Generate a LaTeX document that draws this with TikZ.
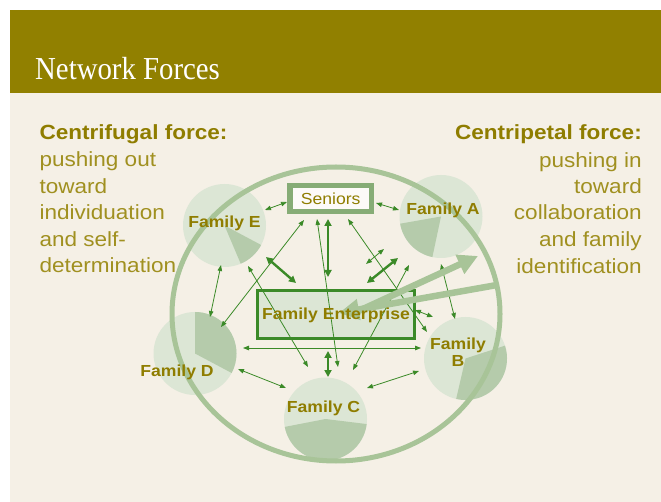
\documentclass[tikz,border=0pt]{standalone}
\usepackage{fontspec}
\setmainfont{Liberation Sans}[FakeStretch=1.1]
\newfontfamily\titlefont{Liberation Serif}[FakeStretch=0.9]
\usetikzlibrary{arrows.meta}

\definecolor{olivebar}{HTML}{918000}
\definecolor{cream}{HTML}{F5F0E6}
\definecolor{famfill}{HTML}{DCE6D5}
\definecolor{famslice}{HTML}{B5CBAB}
\definecolor{ringgreen}{HTML}{A8C498}
\definecolor{linkgreen}{HTML}{3B8A28}
\definecolor{seniorframe}{HTML}{86AC76}
\definecolor{labelolive}{HTML}{8F7D00}
\definecolor{bodyolive}{HTML}{A09020}

\begin{document}
\begin{tikzpicture}[x=1pt,y=-1pt,
  famcircle/.style={circle,fill=famfill,minimum size=83pt,inner sep=0pt},
  famlabel/.style={text=labelolive,font=\fontsize{16}{17.7}\selectfont\bfseries,inner sep=0pt,align=center},
  link/.style={draw=linkgreen,line width=0.8pt,{Triangle[length=6pt,width=4.5pt]}-{Triangle[length=6pt,width=4.5pt]}},
  boldlink/.style={draw=linkgreen,line width=2.4pt,{Triangle[length=7pt,width=7pt]}-{Triangle[length=7pt,width=7pt]}},
  force/.style={draw=ringgreen,line width=6.5pt,-{Triangle[length=20pt,width=20pt]}},
  heading/.style={text=labelolive,font=\fontsize{20.5}{24}\selectfont\bfseries,inner sep=0pt},
  body/.style={text=bodyolive,font=\fontsize{20.5}{24}\selectfont,inner sep=0pt},
  slice/.style={fill=famslice}
]
\useasboundingbox (0,0) rectangle (661,502);

% page panels
\fill[white] (0,0) rectangle (661,502);
\fill[olivebar] (9.5,10) rectangle (661,92.7);
\fill[cream] (9.5,92.7) rectangle (661,502);
\node[anchor=base west,inner sep=0pt,text=white,font=\titlefont\fontsize{32}{36}\selectfont] (title) at (35,80) {Network Forces};

% family circles with their shares
\node[famcircle] (E) at (224.5,225.5) {};
\node[famcircle] (A) at (441,216.5) {};
\node[famcircle] (D) at (195,353.5) {};
\node[famcircle] (C) at (325.5,419) {};
\node[famcircle] (B) at (465.5,358.5) {};
\fill[slice] (E.center) -- ++(28:41.5) arc[start angle=28,end angle=67,radius=41.5] -- cycle;
\fill[slice] (A.center) -- ++(102:41.5) arc[start angle=102,end angle=170,radius=41.5] -- cycle;
\fill[slice] (D.center) -- ++(-90:41.5) arc[start angle=-90,end angle=28,radius=41.5] -- cycle;
\fill[slice] (C.center) -- ++(7:41.5) arc[start angle=7,end angle=169,radius=41.5] -- cycle;
\fill[slice] (B.center) -- ++(-18:41.5) arc[start angle=-18,end angle=103,radius=41.5] -- cycle;

% the network ring
\coordinate (ringc) at (336,314);
\draw[ringgreen,line width=5pt] (ringc) ellipse[x radius=164,y radius=147];

% central boxes
\node[draw=seniorframe,line width=5.3pt,fill=white!70!cream,minimum width=81.3pt,minimum height=25.7pt,inner sep=0pt,
      text=labelolive,font=\fontsize{16}{18}\selectfont] (S) at (330.7,198.7) {Seniors};
\node[draw=linkgreen,line width=3pt,fill=famfill,minimum width=157pt,minimum height=47.7pt,inner sep=0pt] (FE) at (336,314.7) {};

% connector end points
\coordinate (es1) at (265,210);   \coordinate (es2) at (287,202);
\coordinate (sa1) at (376,203);   \coordinate (sa2) at (399,210);
\coordinate (sd1) at (304,220);   \coordinate (sd2) at (221,327);
\coordinate (ed1) at (221,265);   \coordinate (ed2) at (210,317);
\coordinate (ec1) at (248,266);   \coordinate (ec2) at (308,367);
\coordinate (sc1) at (317,219);   \coordinate (sc2) at (338,367);
\coordinate (sb1) at (348,219);   \coordinate (sb2) at (427,332);
\coordinate (xx1) at (366,264);   \coordinate (xx2) at (384,249);
\coordinate (ca1) at (353,370);   \coordinate (ca2) at (409,265);
\coordinate (ab1) at (441,264);   \coordinate (ab2) at (455,319);
\coordinate (fb1) at (415,310);   \coordinate (fb2) at (433,317);
\coordinate (db1) at (243,348);   \coordinate (db2) at (421,348);
\coordinate (dc1) at (238,369);   \coordinate (dc2) at (286,388);
\coordinate (cb1) at (367,388);   \coordinate (cb2) at (419,371);
\coordinate (ef1) at (266,257);   \coordinate (ef2) at (296,283);
\coordinate (sf1) at (328,219);   \coordinate (sf2) at (328,277);
\coordinate (fa1) at (367,283);   \coordinate (fa2) at (398,258);
\coordinate (fc1) at (328,351);   \coordinate (fc2) at (328,377);

% thin links
\draw[link] (es1) -- (es2);
\draw[link] (sa1) -- (sa2);
\draw[link] (sd1) -- (sd2);
\draw[link] (ed1) -- (ed2);
\draw[link] (ec1) -- (ec2);
\draw[link] (sc1) -- (sc2);
\draw[link] (sb1) -- (sb2);
\draw[link] (xx1) -- (xx2);
\draw[link] (ca1) -- (ca2);
\draw[link] (ab1) -- (ab2);
\draw[link] (fb1) -- (fb2);
\draw[link] (db1) -- (db2);
\draw[link] (dc1) -- (dc2);
\draw[link] (cb1) -- (cb2);

% strong links
\draw[boldlink] (ef1) -- (ef2);
\draw[boldlink] (sf1) -- (sf2);
\draw[boldlink] (fa1) -- (fa2);
\draw[boldlink] (fc1) -- (fc2);

% centripetal and centrifugal pulls
\coordinate (inStart) at (497,285);  \coordinate (inTip) at (339,313);
\coordinate (outStart) at (352,314); \coordinate (outTip) at (478,256);
\draw[force] (inStart) -- (inTip);
\draw[force] (outStart) -- (outTip);

% labels
\node[famlabel,anchor=base] (FElabel) at (336,320) {Family Enterprise};
\node[famlabel,anchor=base] (Elabel) at (224.5,227.3) {Family E};
\node[famlabel,anchor=base] (Alabel) at (443,215) {Family A};
\node[famlabel,anchor=base] (Dlabel) at (177,377) {Family D};
\node[famlabel,anchor=base] (Clabel) at (323.5,412.7) {Family C};
\node[famlabel,anchor=north] (Blabel) at (458,337.5) {Family\\B};

% side texts
\node[heading,anchor=base west] (cf0) at (39.3,139.5) {Centrifugal force:};
\node[body,anchor=base west] (cf1) at (39.3,167) {pushing out};
\node[body,anchor=base west] (cf2) at (39.3,193.5) {toward};
\node[body,anchor=base west] (cf3) at (39.3,220) {individuation};
\node[body,anchor=base west] (cf4) at (39.3,246.5) {and self-};
\node[body,anchor=base west] (cf5) at (39.3,273) {determination};

\node[heading,anchor=base east] (cp0) at (642,140) {Centripetal force:};
\node[body,anchor=base east] (cp1) at (642,167.5) {pushing in};
\node[body,anchor=base east] (cp2) at (642,193.5) {toward};
\node[body,anchor=base east] (cp3) at (642,220) {collaboration};
\node[body,anchor=base east] (cp4) at (642,247) {and family};
\node[body,anchor=base east] (cp5) at (642,273.3) {identification};
\end{tikzpicture}
\end{document}
